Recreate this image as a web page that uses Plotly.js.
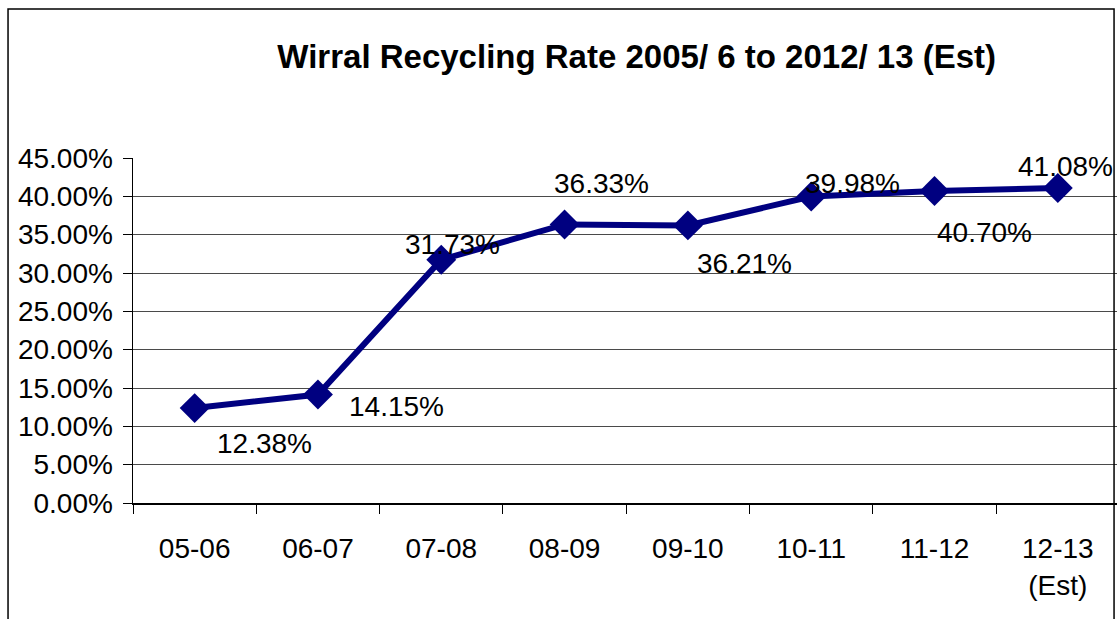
<!DOCTYPE html>
<html>
<head>
<meta charset="utf-8">
<script src="https://cdn.plot.ly/plotly-3.0.1.min.js"></script>
<style>
  html, body { margin: 0; padding: 0; background: #ffffff; }
  #chart { width: 1117px; height: 619px; }
</style>
</head>
<body>
<div id="chart"></div>
<script>
// Data
const categories = ["05-06", "06-07", "07-08", "08-09", "09-10", "10-11", "11-12", "12-13<br>(Est)"];
const recyclingRate = [12.38, 14.15, 31.73, 36.33, 36.21, 39.98, 40.70, 41.08];
const chartTitle = "Wirral Recycling Rate 2005/ 6 to 2012/ 13 (Est)";

// label offsets in pixels (style only)
const labelShiftX = [70, 79, 11, 37, 57, 41, 50, 8];
const labelShiftY = [-35, -12, 15, 41, -38, 13, -42, 22];

const FONT = "Liberation Sans, Arial, sans-serif";

const trace = {
  type: "scatter",
  mode: "lines+markers",
  x: categories,
  y: recyclingRate,
  line: { color: "#000080", width: 6 },
  marker: { symbol: "diamond", size: 23, color: "#000080" },
  hoverinfo: "x+y"
};

const annotations = recyclingRate.map((v, i) => ({
  x: categories[i],
  y: v,
  xref: "x",
  yref: "y",
  text: v.toFixed(2) + "%",
  showarrow: false,
  xshift: labelShiftX[i],
  yshift: labelShiftY[i],
  font: { family: FONT, size: 28, color: "#000000" }
}));

const layout = {
  width: 1117,
  height: 619,
  margin: { l: 133, r: 0, t: 158, b: 116, pad: 0 },
  paper_bgcolor: "#ffffff",
  plot_bgcolor: "#ffffff",
  showlegend: false,
  title: {
    text: "<b>" + chartTitle + "</b>",
    font: { family: FONT, size: 33, color: "#000000" },
    x: 0.57,
    xanchor: "center",
    y: 0.908,
    yanchor: "middle"
  },
  xaxis: {
    type: "category",
    range: [-0.5, 7.48],
    showgrid: false,
    showline: true,
    linecolor: "#000000",
    linewidth: 1.5,
    ticks: "outside",
    tickson: "boundaries",
    ticklen: 9,
    tickcolor: "#000000",
    tickwidth: 1,
    ticklabelstandoff: 20,
    tickfont: { family: FONT, size: 28, color: "#000000" },
    zeroline: false,
    fixedrange: true
  },
  yaxis: {
    range: [0, 45],
    dtick: 5,
    tick0: 0,
    tickformat: ".2f",
    ticksuffix: "%",
    showgrid: true,
    gridcolor: "#4a4a4a",
    gridwidth: 1,
    showline: true,
    linecolor: "#000000",
    linewidth: 1.5,
    ticks: "outside",
    ticklen: 9,
    tickcolor: "#000000",
    ticklabelstandoff: 4,
    tickfont: { family: FONT, size: 28, color: "#000000" },
    zeroline: false,
    fixedrange: true
  },
  annotations: annotations,
  shapes: [
    {
      type: "rect",
      xref: "paper",
      yref: "paper",
      x0: -0.127,
      x1: 0.997,
      y0: -0.4,
      y1: 1.432,
      line: { color: "#000000", width: 1.5 },
      fillcolor: "rgba(0,0,0,0)",
      layer: "above"
    }
  ]
};

Plotly.newPlot("chart", [trace], layout, { displayModeBar: false, staticPlot: true });
</script>
</body>
</html>
